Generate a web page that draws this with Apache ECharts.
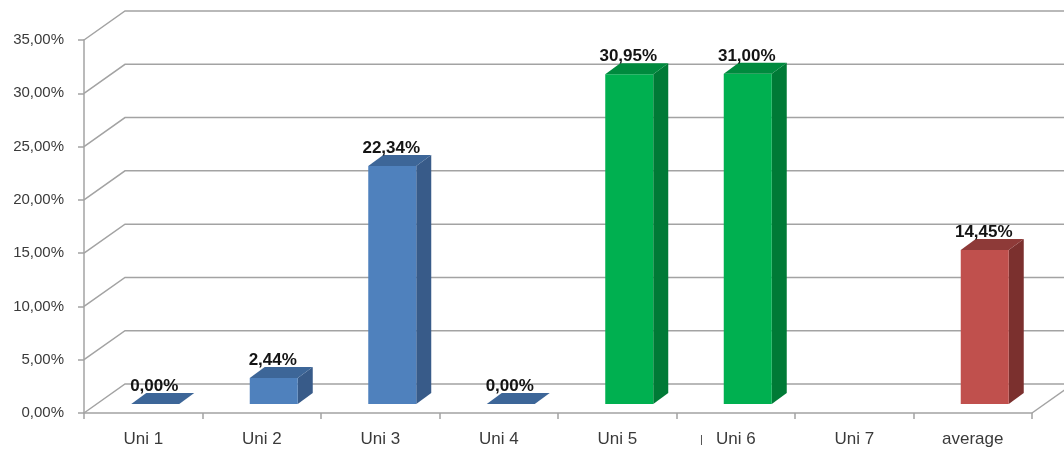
<!DOCTYPE html>
<html>
<head>
<meta charset="utf-8">
<script src="https://cdn.jsdelivr.net/npm/echarts@6/dist/echarts.min.js"></script>
<style>
html,body{margin:0;padding:0;background:#fff;}
#chart{width:1064px;height:450px;}
</style>
</head>
<body>
<div id="chart"></div>
<script>
// ---- data ----
const categories = ['Uni 1', 'Uni 2', 'Uni 3', 'Uni 4', 'Uni 5', 'Uni 6', 'Uni 7', 'average'];
const values = [0.00, 2.44, 22.34, 0.00, 30.95, 31.00, null, 14.45];
const colorGroup = ['blue', 'blue', 'blue', 'blue', 'green', 'green', 'green', 'red'];
const yTicks = [0, 5, 10, 15, 20, 25, 30, 35];

// ---- styles ----
const palette = {
  blue:  { front: '#4F81BD', side: '#385B89', top: '#3D6698' },
  green: { front: '#00B050', side: '#007A36', top: '#008A3E' },
  red:   { front: '#C0504D', side: '#7B302E', top: '#8E3A38' }
};
const WALL_DX = 41, WALL_DY = -29;     // depth of the floor / walls
const BAR_OFF_X = 12, BAR_OFF_Y = -9;  // bar front face offset in depth
const BAR_DX = 15, BAR_DY = -11;       // bar depth
const BAR_W_RATIO = 0.405;
const GRID_COLOR = '#A3A3A3';

function fmt(v) { return v.toFixed(2).replace('.', ',') + '%'; }

const chart = echarts.init(document.getElementById('chart'), null, { renderer: 'canvas' });

const gridSeries = {
  type: 'custom',
  z: 1,
  silent: true,
  clip: false,
  data: yTicks.map(v => [0, v]),
  renderItem: function (params, api) {
    const v = api.value(1);
    const p = api.coord([0, v]);
    const bw = api.size([1, 0])[0];
    const x0 = p[0] - bw / 2;
    const y = p[1];
    const children = [{
      type: 'polyline',
      shape: { points: [[x0, y], [x0 + WALL_DX, y + WALL_DY], [1100, y + WALL_DY]] },
      style: { stroke: GRID_COLOR, lineWidth: 1.5, fill: null }
    }];
    if (v === 0) {
      const xr = api.coord([categories.length - 1, 0])[0] + bw / 2;
      children.push({
        type: 'line',
        shape: { x1: xr, y1: y, x2: xr + WALL_DX, y2: y + WALL_DY },
        style: { stroke: GRID_COLOR, lineWidth: 1.5 }
      });
    }
    return { type: 'group', children: children };
  }
};

const barSeries = {
  type: 'custom',
  z: 5,
  clip: false,
  data: values.map((v, i) => [i, v]),
  renderItem: function (params, api) {
    const i = api.value(0);
    const v = values[i];
    if (v === null || v === undefined) return null;
    const bw = api.size([1, 0])[0];
    const fw = bw * BAR_W_RATIO;
    const top = api.coord([i, v]);
    const base = api.coord([i, 0]);
    const cx = top[0] + BAR_OFF_X;
    const xl = cx - fw / 2, xr = cx + fw / 2;
    const yb = base[1] + BAR_OFF_Y;
    const yt = top[1] + BAR_OFF_Y;
    const c = palette[colorGroup[i]];
    const children = [];
    // side
    children.push({
      type: 'polygon',
      shape: { points: [[xr, yb], [xr + BAR_DX, yb + BAR_DY], [xr + BAR_DX, yt + BAR_DY], [xr, yt]] },
      style: { fill: c.side }
    });
    // front
    if (yb - yt > 0.5) {
      children.push({
        type: 'rect',
        shape: { x: xl, y: yt, width: fw, height: yb - yt },
        style: { fill: new echarts.graphic.LinearGradient(0, 0, 1, 0, [
          { offset: 0, color: c.front }, { offset: 1, color: c.front }
        ]) }
      });
    }
    // top
    children.push({
      type: 'polygon',
      shape: { points: [[xl, yt], [xr, yt], [xr + BAR_DX, yt + BAR_DY], [xl + BAR_DX, yt + BAR_DY]] },
      style: { fill: c.top }
    });
    // label
    children.push({
      type: 'text',
      z2: 10,
      style: {
        text: fmt(v),
        x: cx - 1,
        y: yt + BAR_DY + 2,
        textAlign: 'center',
        textVerticalAlign: 'bottom',
        font: 'bold 17px "Liberation Sans", Arial, sans-serif',
        fill: '#141414'
      }
    });
    return { type: 'group', children: children };
  }
};

chart.setOption({
  animation: false,
  backgroundColor: '#ffffff',
  grid: { left: 84, right: 32, top: 40, bottom: 37, containLabel: false },
  xAxis: {
    type: 'category',
    data: categories,
    boundaryGap: true,
    axisLine: { show: true, lineStyle: { color: GRID_COLOR, width: 1.5 } },
    axisTick: { show: true, length: 6, interval: 0, lineStyle: { color: GRID_COLOR, width: 1.5 } },
    axisLabel: {
      interval: 0, margin: 18, color: '#3a3a3a',
      fontFamily: '"Liberation Sans", Arial, sans-serif', fontSize: 17
    },
    splitLine: { show: false }
  },
  yAxis: {
    type: 'value',
    min: 0, max: 35, interval: 5,
    axisLine: { show: true, lineStyle: { color: GRID_COLOR, width: 1.5 } },
    axisTick: { show: true, length: 6, lineStyle: { color: GRID_COLOR, width: 1.5 } },
    axisLabel: {
      margin: 20, color: '#3a3a3a',
      fontFamily: '"Liberation Sans", Arial, sans-serif', fontSize: 15,
      formatter: function (v) { return fmt(v); }
    },
    splitLine: { show: false }
  },
  graphic: [{
    type: 'text',
    left: 700, top: 434,
    style: { text: '|', font: '11px "Liberation Sans", Arial, sans-serif', fill: '#404040' }
  }],
  series: [gridSeries, barSeries]
});
</script>
</body>
</html>
